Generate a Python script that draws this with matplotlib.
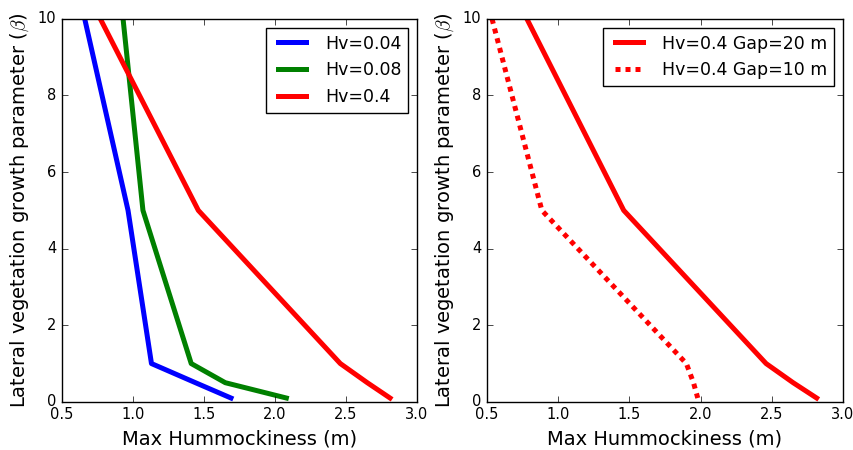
import matplotlib
matplotlib.use("Agg")
import matplotlib.pyplot as plt

plt.style.use("classic")
plt.rcParams["font.family"] = ["DejaVu Sans"]

beta = [10, 5, 1, 0.5, 0.1]
hv004 = [0.66, 0.965, 1.13, 1.44, 1.69]
hv008 = [0.93, 1.07, 1.41, 1.65, 2.08]
hv04 = [0.77, 1.46, 2.46, 2.65, 2.81]
hv04_gap20 = [0.78, 1.46, 2.46, 2.65, 2.815]
hv04_gap10 = [0.535, 0.885, 1.90, 1.95, 1.98]

fig = plt.figure(figsize=(8.54, 4.5), dpi=100, facecolor="white")
ax1 = fig.add_axes([0.0726, 0.107, 0.4157, 0.851])
ax2 = fig.add_axes([0.5703, 0.107, 0.4168, 0.851])

lw = 3.6
ax1.plot(hv004, beta, color="blue", lw=lw, label="Hv=0.04")
ax1.plot(hv008, beta, color="green", lw=lw, label="Hv=0.08")
ax1.plot(hv04, beta, color="red", lw=lw, label="Hv=0.4")

ax2.plot(hv04_gap20, beta, color="red", lw=lw, label="Hv=0.4 Gap=20 m")
ax2.plot(hv04_gap10, beta, color="red", lw=lw, linestyle=(0, (3.6, 3.6)),
         dash_capstyle="butt", label="Hv=0.4 Gap=10 m")

for ax in (ax1, ax2):
    ax.set_xlim(0.5, 3.0)
    ax.set_ylim(0, 10)
    ax.set_xticks([0.5, 1.0, 1.5, 2.0, 2.5, 3.0])
    ax.set_yticks([0, 2, 4, 6, 8, 10])
    ax.tick_params(labelsize=10.5)
    ax.set_xlabel("Max Hummockiness (m)", fontsize=14)
    ax.set_ylabel(r"Lateral vegetation growth parameter ($\beta$)", fontsize=14)
    ax.legend(loc="upper right", fontsize=12.5, handlelength=2.2)

fig.savefig("out.png", dpi=100, facecolor="white")
